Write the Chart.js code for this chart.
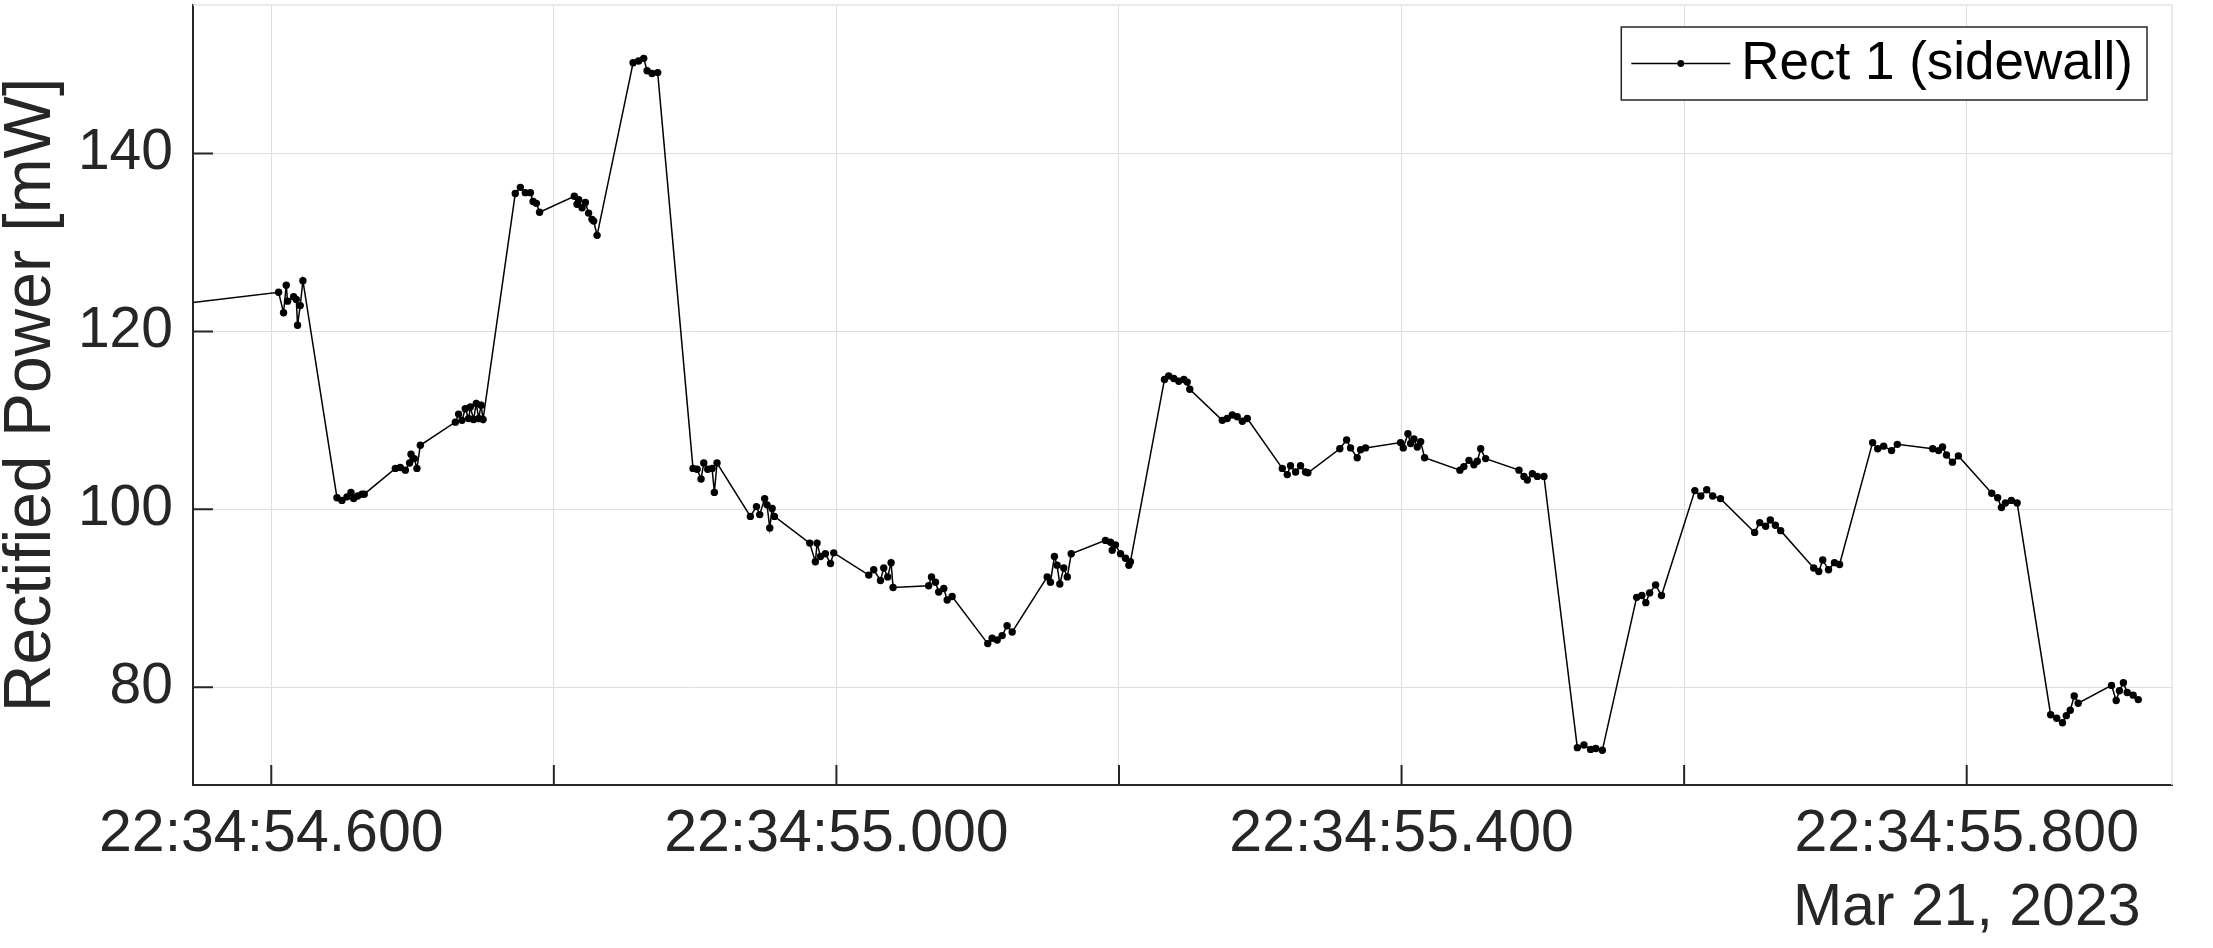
<!DOCTYPE html>
<html>
<head>
<meta charset="utf-8">
<script src="https://cdn.jsdelivr.net/npm/chart.js@4.4.1/dist/chart.umd.min.js"></script>
<style>
  html, body { margin: 0; padding: 0; background: #fff; }
  canvas { display: block; }
</style>
</head>
<body>
<canvas id="grafik" width="2213" height="948"></canvas>
<script>
// -------- DATA --------
// time = seconds after 22:34:00 (Mar 21, 2023), power in mW
const waktu = [
    54.500,
    54.6052, 54.6087, 54.6106, 54.6115, 54.6158, 54.6177, 54.6186, 54.6205, 54.6224,
    54.6465, 54.6500, 54.6536, 54.6564, 54.6583, 54.6611, 54.6642, 54.6658,
    54.6878, 54.6913, 54.6949, 54.6979, 54.6989, 54.7012, 54.7031, 54.7055,
    54.7303, 54.7326, 54.7350, 54.7373, 54.7397, 54.7409, 54.7432, 54.7451, 54.7468, 54.7485, 54.7499,
    54.7727, 54.7763, 54.7798, 54.7834, 54.7853, 54.7876, 54.7899,
    54.8145, 54.8164, 54.8176, 54.8200, 54.8223, 54.8246, 54.8270, 54.8282, 54.8306,
    54.8561, 54.8600, 54.8636, 54.8660, 54.8695, 54.8735,
    54.8985, 54.9014, 54.9042, 54.9061, 54.9089, 54.9120, 54.9136, 54.9155,
    54.9391, 54.9434, 54.9457, 54.9492, 54.9509, 54.9528, 54.9545, 54.9561,
    54.9811, 54.9851, 54.9863, 54.9887, 54.9922, 54.9958, 54.9981,
    55.0229, 55.0264, 55.0312, 55.0335, 55.0363, 55.0387, 55.0401,
    55.0653, 55.0673, 55.0701, 55.0724, 55.0760, 55.0784, 55.0819,
    55.1071, 55.1102, 55.1138, 55.1173, 55.1208, 55.1244,
    55.1492, 55.1515, 55.1543, 55.1562, 55.1581, 55.1609, 55.1634, 55.1662,
    55.1904, 55.1940, 55.1952, 55.1975, 55.2011, 55.2046, 55.2070, 55.2081,
    55.2322, 55.2352, 55.2388, 55.2423, 55.2459, 55.2483, 55.2501,
    55.2731, 55.2766, 55.2802, 55.2837, 55.2873, 55.2908,
    55.3156, 55.3191, 55.3214, 55.3250, 55.3285, 55.3320, 55.3337,
    55.3563, 55.3611, 55.3639, 55.3686, 55.3710, 55.3745,
    55.3993, 55.4012, 55.4045, 55.4064, 55.4087, 55.4111, 55.4135, 55.4163,
    55.4413, 55.4441, 55.4477, 55.4512, 55.4536, 55.4560, 55.4595,
    55.4831, 55.4866, 55.4890, 55.4926, 55.4961, 55.5008,
    55.5244, 55.5291, 55.5338, 55.5374, 55.5421,
    55.5664, 55.5701, 55.5729, 55.5756, 55.5798, 55.5840,
    55.6076, 55.6118, 55.6160, 55.6202, 55.6257,
    55.6499, 55.6535, 55.6577, 55.6610, 55.6646, 55.6683,
    55.6917, 55.6953, 55.6981, 55.7022, 55.7064, 55.7100,
    55.7334, 55.7370, 55.7412, 55.7468, 55.7509,
    55.7759, 55.7801, 55.7829, 55.7857, 55.7899, 55.7941,
    55.8177, 55.8219, 55.8246, 55.8274, 55.8316, 55.8357,
    55.8594, 55.8637, 55.8678, 55.8705, 55.8733, 55.8761, 55.8789,
    55.9025, 55.9058, 55.9081, 55.9109, 55.9136, 55.9178, 55.9214
];

const daya = [
    122.4,
    124.4, 122.1, 125.2, 123.4, 123.9, 123.6, 120.7, 122.9, 125.7,
    101.3, 101.0, 101.4, 101.9, 101.2, 101.5, 101.7, 101.7,
    104.6, 104.7, 104.4, 105.2, 106.2, 105.7, 104.6, 107.2,
    109.8, 110.7, 110.0, 111.3, 110.2, 111.5, 110.1, 111.9, 110.2, 111.7, 110.1,
    135.5, 136.2, 135.6, 135.6, 134.6, 134.4, 133.4,
    135.2, 134.3, 134.8, 133.9, 134.5, 133.3, 132.6, 132.4, 130.8,
    150.2, 150.4, 150.7, 149.3, 149.0, 149.1,
    104.6, 104.5, 103.4, 105.2, 104.5, 104.6, 101.9, 105.2,
    99.2, 100.3, 99.4, 101.2, 100.5, 97.9, 100.1, 99.2,
    96.2, 94.1, 96.2, 94.7, 95.0, 93.9, 95.1,
    92.6, 93.2, 92.0, 93.4, 92.4, 94.0, 91.2,
    91.4, 92.4, 91.8, 90.7, 91.1, 89.8, 90.2,
    84.9, 85.5, 85.3, 85.8, 86.9, 86.2,
    92.4, 91.8, 94.7, 93.7, 91.6, 93.4, 92.4, 95.0,
    96.5, 96.3, 95.4, 96.0, 95.0, 94.5, 93.7, 94.1,
    114.6, 115.0, 114.7, 114.4, 114.6, 114.3, 113.5,
    110.0, 110.2, 110.6, 110.4, 109.9, 110.2,
    104.6, 103.9, 104.9, 104.2, 104.9, 104.2, 104.1,
    106.8, 107.8, 106.9, 105.8, 106.7, 106.9,
    107.5, 106.9, 108.5, 107.4, 107.9, 107.0, 107.6, 105.8,
    104.4, 104.8, 105.5, 105.0, 105.4, 106.8, 105.7,
    104.4, 103.7, 103.3, 104.0, 103.7, 103.7,
    73.2, 73.5, 73.0, 73.1, 72.9,
    90.1, 90.3, 89.5, 90.6, 91.5, 90.3,
    102.1, 101.5, 102.2, 101.5, 101.2,
    97.4, 98.5, 98.1, 98.8, 98.2, 97.6,
    93.4, 93.0, 94.3, 93.2, 94.0, 93.8,
    107.5, 106.8, 107.1, 106.6, 107.3,
    106.8, 106.6, 107.0, 106.1, 105.3, 106.0,
    101.8, 101.3, 100.2, 100.7, 101.0, 100.7,
    76.9, 76.5, 76.0, 76.8, 77.4, 79.0, 78.2,
    80.2, 78.5, 79.6, 80.5, 79.4, 79.1, 78.6
];

const namaSeri = "Rect 1 (sidewall)";
const judulY = "Rectified Power [mW]";

const tickX = [54.6, 54.8, 55.0, 55.2, 55.4, 55.6, 55.8];
const labelX = ["22:34:54.600", "", "22:34:55.000", "", "22:34:55.400", "", ["22:34:55.800", "Mar 21, 2023"]];
const tickY = [80, 100, 120, 140];

const batasX = [54.5446, 55.9453];
const batasY = [69.0, 156.7];

// -------- STYLE --------
const warnaTeks = "#262626";
const warnaGrid = "#dedede";
Chart.defaults.font.family = "'Liberation Sans', Arial, Helvetica, sans-serif";

// legend box drawn inside the plot, top right
const legendKotak = {
    id: "legendKotak",
    afterDraw(chart) {
        const ctx = chart.ctx;
        const area = chart.chartArea;
        const ds = chart.data.datasets[0];
        ctx.save();
        ctx.font = "53px 'Liberation Sans', Arial, sans-serif";
        const lebarTeks = ctx.measureText(ds.label).width;
        const w = 10 + 99 + 11 + lebarTeks + 14;
        const h = 73;
        const x = area.right - 25 - w;
        const y = area.top + 22;
        ctx.fillStyle = "#fff";
        ctx.fillRect(x, y, w, h);
        ctx.strokeStyle = warnaTeks;
        ctx.lineWidth = 1.5;
        ctx.strokeRect(x, y, w, h);
        const cy = y + h / 2;
        ctx.strokeStyle = "#000";
        ctx.lineWidth = 1.4;
        ctx.beginPath();
        ctx.moveTo(x + 10, cy);
        ctx.lineTo(x + 109, cy);
        ctx.stroke();
        ctx.fillStyle = "#000";
        ctx.beginPath();
        ctx.arc(x + 59.5, cy, 3.4, 0, Math.PI * 2);
        ctx.fill();
        ctx.textBaseline = "middle";
        ctx.fillText(ds.label, x + 120, cy + 1);
        ctx.restore();
    }
};

// inward tick marks and light box, like the original
const tandaTick = {
    id: "tandaTick",
    beforeDatasetsDraw(chart) {
        const ctx = chart.ctx;
        const a = chart.chartArea;
        ctx.save();
        ctx.strokeStyle = "#e4e4e4";
        ctx.lineWidth = 1.5;
        ctx.beginPath();
        ctx.moveTo(a.left, a.top);
        ctx.lineTo(a.right, a.top);
        ctx.lineTo(a.right, a.bottom);
        ctx.stroke();
        ctx.strokeStyle = warnaTeks;
        ctx.lineWidth = 2;
        ctx.beginPath();
        chart.scales.x.ticks.forEach(t => {
            const px = chart.scales.x.getPixelForValue(t.value);
            ctx.moveTo(px, a.bottom);
            ctx.lineTo(px, a.bottom - 20);
        });
        chart.scales.y.ticks.forEach(t => {
            const py = chart.scales.y.getPixelForValue(t.value);
            ctx.moveTo(a.left, py);
            ctx.lineTo(a.left + 20, py);
        });
        ctx.stroke();
        ctx.restore();
    }
};

// -------- CHART --------
const titik = waktu.map((t, i) => ({ x: t, y: daya[i] }));

new Chart(document.getElementById("grafik"), {
    type: "line",
    data: {
        datasets: [{
            label: namaSeri,
            data: titik,
            borderColor: "#000",
            backgroundColor: "#000",
            borderWidth: 1.5,
            pointRadius: 3.7,
            pointBorderWidth: 0,
            pointHoverRadius: 3.7,
            tension: 0,
            fill: false
        }]
    },
    options: {
        responsive: false,
        animation: false,
        events: [],
        layout: { padding: { left: 0, top: 5, right: 41, bottom: 0 } },
        plugins: {
            legend: { display: false },
            tooltip: { enabled: false }
        },
        scales: {
            x: {
                type: "linear",
                min: batasX[0],
                max: batasX[1],
                afterBuildTicks: s => { s.ticks = tickX.map(v => ({ value: v })); },
                afterFit: s => { s.height = 163; s.paddingLeft = 0; s.paddingRight = 0; },
                grid: { color: warnaGrid, lineWidth: 1, drawTicks: false },
                border: { color: warnaTeks, width: 2 },
                ticks: {
                    callback: (v, i) => labelX[i],
                    autoSkip: false,
                    maxRotation: 0,
                    padding: 13,
                    color: warnaTeks,
                    font: { size: 59, lineHeight: 1.25 }
                }
            },
            y: {
                min: batasY[0],
                max: batasY[1],
                afterBuildTicks: s => { s.ticks = tickY.map(v => ({ value: v })); },
                afterFit: s => { s.width = 193; s.paddingTop = 0; s.paddingBottom = 0; },
                grid: { color: warnaGrid, lineWidth: 1, drawTicks: false },
                border: { color: warnaTeks, width: 2 },
                title: {
                    display: true,
                    text: judulY,
                    color: warnaTeks,
                    padding: 0,
                    font: { size: 66, lineHeight: 0.95 }
                },
                ticks: {
                    padding: 20,
                    color: warnaTeks,
                    font: { size: 57 }
                }
            }
        }
    },
    plugins: [tandaTick, legendKotak]
});
</script>
</body>
</html>
